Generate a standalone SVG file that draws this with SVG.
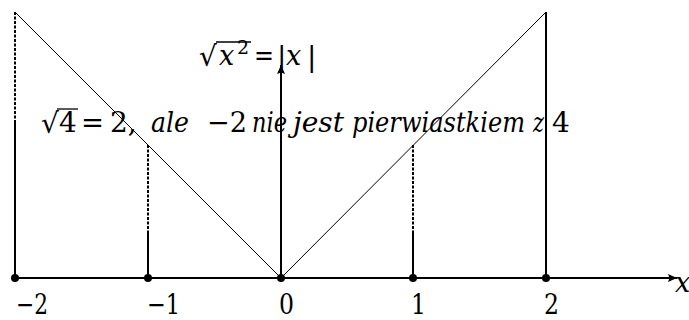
<svg xmlns="http://www.w3.org/2000/svg" width="689" height="320" viewBox="0 0 689 320">
<style>
text{fill:#000}
.t{font-size:28px;font-family:"DejaVu Serif",serif}
.i{font-style:italic;font-size:27px;font-family:"DejaVu Serif",serif}
.thick{stroke:#000;stroke-width:2;fill:none}
.thin{stroke:#000;stroke-width:1;fill:none}
.dot{stroke:#000;stroke-width:2;fill:none;stroke-dasharray:3 1.5}
.vin{stroke:#000;stroke-width:1.3}
</style>
<defs>
<marker id="arr" markerUnits="userSpaceOnUse" markerWidth="10" markerHeight="10" refX="9" refY="4" orient="auto">
<path d="M0,0 L9,4 L0,8 L1.5,4 z" fill="#000"/>
</marker>
</defs>
<rect width="689" height="320" fill="#fff"/>
<g id="connectors">
<line id="x-axis" class="thick" x1="15" y1="278" x2="677" y2="278" marker-end="url(#arr)"/>
<line id="y-arrow" class="thick" x1="281" y1="278" x2="281" y2="65" marker-end="url(#arr)"/>
<polyline id="abs-graph" class="thin" points="15,12 281,278 546,12"/>
<line class="dot" x1="15" y1="12" x2="15" y2="121"/>
<line class="thick" x1="15" y1="121" x2="15" y2="278"/>
<line class="dot" x1="148" y1="145" x2="148" y2="232"/>
<line class="thick" x1="148" y1="232" x2="148" y2="278"/>
<line class="dot" x1="413" y1="145" x2="413" y2="232"/>
<line class="thick" x1="413" y1="232" x2="413" y2="278"/>
<line class="thick" x1="546" y1="12" x2="546" y2="278"/>
</g>
<g id="pt-m2"><circle cx="15" cy="278" r="4"/><text class="t" x="16" y="314" textLength="32" lengthAdjust="spacingAndGlyphs">−2</text></g>
<g id="pt-m1"><circle cx="148" cy="278" r="4"/><text class="t" x="147" y="314" textLength="33" lengthAdjust="spacingAndGlyphs">−1</text></g>
<g id="pt-0"><circle cx="281" cy="278" r="4"/><text class="t" x="279" y="314" textLength="15" lengthAdjust="spacingAndGlyphs">0</text></g>
<g id="pt-1"><circle cx="413" cy="278" r="4"/><text class="t" x="411" y="314" textLength="15" lengthAdjust="spacingAndGlyphs">1</text></g>
<g id="pt-2"><circle cx="546" cy="278" r="4"/><text class="t" x="544" y="314" textLength="15" lengthAdjust="spacingAndGlyphs">2</text></g>
<g id="x-label"><text class="i" x="675" y="292" font-size="25">x</text></g>
<g id="title">
<text class="t" x="199" y="66">√</text>
<line class="vin" x1="216" y1="42" x2="251" y2="42"/>
<text class="i" x="219" y="65">x</text>
<text x="237" y="54" font-size="19" font-family="DejaVu Serif, serif">2</text>
<text class="t" x="254" y="65" textLength="20" lengthAdjust="spacingAndGlyphs">=</text>
<text class="t" x="277" y="66">|</text>
<text class="i" x="286" y="65">x</text>
<text class="t" x="307" y="66">|</text>
</g>
<g id="note">
<text class="t" x="41" y="133">√</text>
<line class="vin" x1="57" y1="109" x2="78" y2="109"/>
<text class="t" x="59" y="132">4</text>
<text class="t" x="81" y="132" textLength="23" lengthAdjust="spacingAndGlyphs">=</text>
<text class="t" x="110" y="132">2,</text>
<text class="i" x="151" y="132" textLength="38" lengthAdjust="spacingAndGlyphs">ale</text>
<text class="t" x="207" y="132" textLength="40" lengthAdjust="spacingAndGlyphs">−2</text>
<text class="i" x="252" y="132" textLength="35" lengthAdjust="spacingAndGlyphs">nie</text>
<text class="i" x="293" y="132" textLength="51" lengthAdjust="spacingAndGlyphs">jest</text>
<text class="i" x="352" y="132" textLength="173" lengthAdjust="spacingAndGlyphs">pierwiastkiem</text>
<text class="i" x="533" y="132" textLength="11" lengthAdjust="spacingAndGlyphs">z</text>
<text class="t" x="552" y="132">4</text>
</g>
</svg>
